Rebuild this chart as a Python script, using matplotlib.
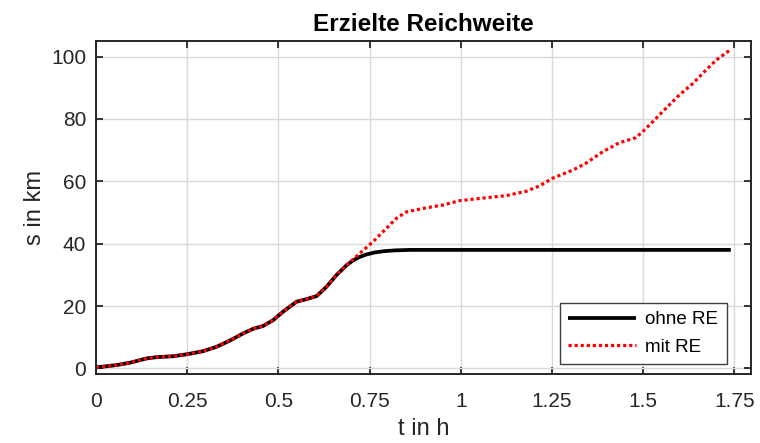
import matplotlib
matplotlib.use('Agg')
import matplotlib.pyplot as plt
import numpy as np

plt.rcParams['font.family'] = ['Liberation Sans', 'DejaVu Sans']

# Zeit in h und Strecke in km, ohne Range Extender
t_ohne = [0.0, 0.057, 0.093, 0.139, 0.166, 0.212, 0.248, 0.293, 0.330, 0.367,
          0.403, 0.431, 0.458, 0.486, 0.513, 0.550, 0.577, 0.605, 0.632, 0.659,
          0.687, 0.703, 0.720, 0.740, 0.765, 0.790, 0.820, 0.860, 0.950, 1.740]
s_ohne = [0.3, 1.06, 1.8, 3.2, 3.6, 3.9, 4.5, 5.5, 6.9, 8.9,
          11.2, 12.7, 13.6, 15.5, 18.2, 21.4, 22.2, 23.2, 26.2, 29.9,
          33.1, 34.5, 35.6, 36.5, 37.2, 37.6, 37.85, 38.0, 38.0, 38.0]

# mit Range Extender
t_mit = [0.0, 0.057, 0.093, 0.139, 0.166, 0.212, 0.248, 0.293, 0.330, 0.367,
         0.403, 0.431, 0.458, 0.486, 0.513, 0.550, 0.577, 0.605, 0.632, 0.659,
         0.687, 0.723, 0.759, 0.796, 0.823, 0.851, 0.896, 0.951, 0.997, 1.051,
         1.124, 1.179, 1.215, 1.252, 1.307, 1.343, 1.389, 1.435, 1.480, 1.498,
         1.526, 1.562, 1.599, 1.636, 1.672, 1.700, 1.740]
s_mit = [0.3, 1.06, 1.8, 3.2, 3.6, 3.9, 4.5, 5.5, 6.9, 8.9,
         11.2, 12.7, 13.6, 15.5, 18.2, 21.4, 22.2, 23.2, 26.2, 29.9,
         33.1, 36.9, 40.6, 44.9, 48.1, 50.2, 51.3, 52.4, 53.8, 54.5,
         55.4, 56.8, 58.5, 61.0, 63.6, 65.8, 69.5, 72.4, 74.0, 75.9,
         79.1, 83.4, 87.7, 91.4, 95.7, 98.9, 102.3]

xticks = [0, 0.25, 0.5, 0.75, 1, 1.25, 1.5, 1.75]
xticklabels = ['0', '0.25', '0.5', '0.75', '1', '1.25', '1.5', '1.75']
yticks = [0, 20, 40, 60, 80, 100]

fig = plt.figure(figsize=(7.6, 4.43), dpi=100)
ax = fig.add_axes([0.1263, 0.1558, 0.8617, 0.7516])

ax.plot(t_ohne, s_ohne, color='black', lw=2.7, label='ohne RE', solid_capstyle='butt')
ax.plot(t_mit, s_mit, color='red', lw=2.3, linestyle=(0, (1, 0.9)), label='mit RE')

ax.set_xlim(0, 1.795)
ax.set_ylim(-1.8, 105)
ax.set_xticks(xticks)
ax.set_xticklabels(xticklabels)
ax.set_yticks(yticks)

ax.grid(True, color='#d9d9d9', lw=1.0)
ax.set_axisbelow(True)
for sp in ax.spines.values():
    sp.set_color('#262626')
    sp.set_linewidth(1.4)
ax.tick_params(direction='in', length=5, width=1.3, color='#262626',
               top=True, right=True, labelsize=15, labelcolor='#262626')
ax.tick_params(axis='x', pad=13)
ax.tick_params(axis='y', pad=7)

ax.set_title('Erzielte Reichweite', fontsize=17.5, fontweight='bold', pad=7)
ax.set_xlabel('t in h', fontsize=17, color='#262626', labelpad=5)
ax.set_ylabel('s in km', fontsize=17, color='#262626', labelpad=4)

leg = ax.legend(loc='lower right', bbox_to_anchor=(0.963, 0.03), fontsize=13.5,
                fancybox=False, framealpha=1, edgecolor='#404040',
                handlelength=3.6, borderpad=0.45, labelspacing=0.55,
                handletextpad=0.5, borderaxespad=0)
leg.get_frame().set_linewidth(1.0)

fig.savefig('out.png', dpi=100)
